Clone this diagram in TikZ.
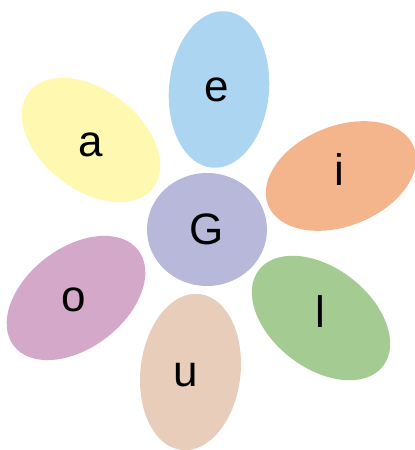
\documentclass[tikz,border=0pt]{standalone}
\usepackage{fontspec}
\setmainfont{Liberation Sans}
\usetikzlibrary{shapes.geometric}
\definecolor{PetalBlue}{HTML}{ACD5F2}
\definecolor{PetalYellow}{HTML}{FFF8B0}
\definecolor{PetalOrange}{HTML}{F4B48C}
\definecolor{PetalPink}{HTML}{D4A8C8}
\definecolor{PetalBeige}{HTML}{E8CDBB}
\definecolor{PetalGreen}{HTML}{A3CB92}
\definecolor{CenterPurple}{HTML}{B7B8DA}
\tikzset{letter/.style={font=\fontsize{44}{44}\selectfont, inner sep=0pt}}

\begin{document}
\begin{tikzpicture}[x=1pt, y=1pt]
  \useasboundingbox (0,0) rectangle (415,450);

  \foreach \nm/\cx/\cy/\ang/\col/\lx/\ly in {%
      e/219/360.5/85/PetalBlue/217/360,
      a/91/310/-37.7/PetalYellow/91/305,
      i/341/274/21.8/PetalOrange/339/280,
      o/76/152/37.5/PetalPink/74/150,
      u/190.5/78/83.4/PetalBeige/186/75,
      l/321/132/-37.8/PetalGreen/320/138}{%
    \fill[\col, rotate around={\ang:(\cx,\cy)}] (\cx,\cy) ellipse (78.5pt and 50pt);
    \node[letter] (\nm) at (\lx,\ly) {\nm};
  }

  \node[letter, ellipse, fill=CenterPurple, minimum width=120pt, minimum height=113pt]
    (G) at (207,220.5) {G};
\end{tikzpicture}
\end{document}
